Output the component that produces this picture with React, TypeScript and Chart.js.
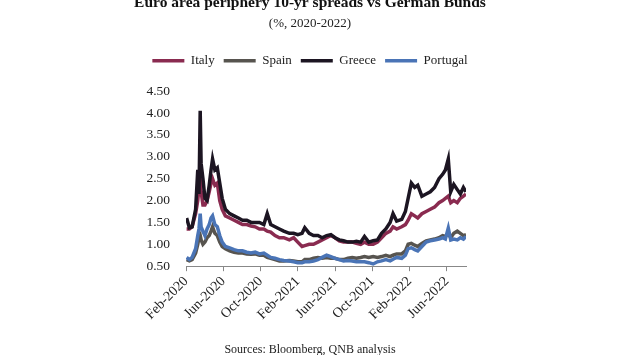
import React, { useEffect, useRef } from "react";
import { Chart, registerables } from "chart.js";

Chart.register(...registerables);

const dates = [
  "2020-02-03", "2020-02-12", "2020-02-21", "2020-03-02", "2020-03-09", "2020-03-13", "2020-03-17", "2020-03-20",
  "2020-03-26", "2020-04-02", "2020-04-09", "2020-04-16", "2020-04-22", "2020-04-27", "2020-05-04", "2020-05-12",
  "2020-05-20", "2020-05-28", "2020-06-08", "2020-06-22", "2020-07-06", "2020-07-20", "2020-08-03", "2020-08-17",
  "2020-08-31", "2020-09-14", "2020-09-28", "2020-10-12", "2020-10-23", "2020-11-04", "2020-11-18", "2020-12-02",
  "2020-12-16", "2021-01-04", "2021-01-18", "2021-02-01", "2021-02-15", "2021-02-24", "2021-03-08", "2021-03-22",
  "2021-04-06", "2021-04-20", "2021-05-04", "2021-05-18", "2021-06-01", "2021-06-15", "2021-06-29", "2021-07-13",
  "2021-07-27", "2021-08-10", "2021-08-24", "2021-09-06", "2021-09-20", "2021-10-04", "2021-10-18", "2021-11-01",
  "2021-11-15", "2021-11-29", "2021-12-08", "2021-12-20", "2022-01-06", "2022-01-18", "2022-01-27", "2022-02-07",
  "2022-02-18", "2022-02-28", "2022-03-11", "2022-03-25", "2022-04-08", "2022-04-22", "2022-05-06", "2022-05-18",
  "2022-05-27", "2022-06-06", "2022-06-14", "2022-06-24", "2022-07-05", "2022-07-15", "2022-07-25", "2022-08-03",
];

const italy = [
  1.35, 1.35, 1.4, 1.7, 2.0, 2.3, 2.5, 2.2, 1.9, 1.9, 2.0, 2.2, 2.4, 2.5, 2.35, 2.4,
  2.0, 1.8, 1.65, 1.6, 1.55, 1.5, 1.45, 1.45, 1.42, 1.4, 1.35, 1.35, 1.3, 1.28, 1.2, 1.15,
  1.15, 1.1, 1.15, 1.05, 0.95, 0.97, 1.0, 1.0, 1.05, 1.1, 1.15, 1.2, 1.15, 1.08, 1.05, 1.05,
  1.05, 1.02, 1.0, 1.05, 1.0, 1.0, 1.05, 1.15, 1.25, 1.3, 1.4, 1.35, 1.4, 1.45, 1.55, 1.7,
  1.65, 1.6, 1.7, 1.75, 1.8, 1.85, 1.95, 2.0, 2.05, 2.1, 1.95, 2.0, 1.95, 2.05, 2.1, 2.15,
];

const spain = [
  0.65, 0.62, 0.65, 0.8, 1.0, 1.15, 1.2, 1.1, 1.0, 1.05, 1.15, 1.2, 1.3, 1.4, 1.25, 1.2,
  1.05, 0.95, 0.9, 0.85, 0.82, 0.8, 0.8, 0.78, 0.77, 0.78, 0.75, 0.75, 0.7, 0.68, 0.65, 0.62,
  0.62, 0.63, 0.62, 0.6, 0.6, 0.65, 0.65, 0.68, 0.7, 0.68, 0.7, 0.68, 0.68, 0.65, 0.65, 0.68,
  0.7, 0.68, 0.7, 0.72, 0.7, 0.72, 0.7, 0.72, 0.75, 0.72, 0.75, 0.78, 0.78, 0.85, 1.0, 1.02,
  0.98, 0.95, 1.02, 1.08, 1.1, 1.12, 1.15, 1.2, 1.18, 1.25, 1.15, 1.25, 1.3, 1.25, 1.2, 1.22,
];

const greece = [
  1.6, 1.38, 1.4, 1.8, 2.7, 2.15, 4.05, 2.85, 2.5, 2.05, 2.0, 2.35, 2.7, 2.95, 2.7, 2.75,
  2.4, 2.05, 1.8, 1.7, 1.65, 1.6, 1.55, 1.55, 1.5, 1.5, 1.5, 1.45, 1.7, 1.45, 1.4, 1.35,
  1.3, 1.25, 1.25, 1.22, 1.25, 1.38, 1.25, 1.2, 1.2, 1.15, 1.2, 1.22, 1.15, 1.1, 1.08, 1.05,
  1.05, 1.07, 1.05, 1.18, 1.05, 1.08, 1.1, 1.25, 1.35, 1.5, 1.7, 1.53, 1.57, 1.75, 2.05, 2.4,
  2.3, 2.35, 2.1, 2.15, 2.2, 2.3, 2.5, 2.6, 2.7, 2.95, 2.2, 2.37, 2.25, 2.15, 2.3, 2.2,
];

const portugal = [
  0.7, 0.65, 0.7, 0.9, 1.2, 1.35, 1.7, 1.4, 1.3, 1.2, 1.35, 1.45, 1.6, 1.65, 1.45, 1.4,
  1.2, 1.05, 0.95, 0.92, 0.88, 0.85, 0.85, 0.82, 0.8, 0.82, 0.78, 0.8, 0.75, 0.7, 0.68, 0.65,
  0.63, 0.62, 0.6, 0.58, 0.58, 0.6, 0.6, 0.62, 0.65, 0.7, 0.75, 0.72, 0.68, 0.65, 0.62, 0.63,
  0.62, 0.6, 0.6, 0.6, 0.58, 0.55, 0.6, 0.62, 0.65, 0.62, 0.66, 0.7, 0.68, 0.75, 0.9, 0.92,
  0.88, 0.85, 0.95, 1.05, 1.08, 1.1, 1.12, 1.15, 1.12, 1.37, 1.1, 1.12, 1.1, 1.15, 1.12, 1.18,
];

const tickMonths = [0, 4, 8, 12, 16, 20, 24, 28];
const tickLabels = ["Feb-2020", "Jun-2020", "Oct-2020", "Feb-2021", "Jun-2021", "Oct-2021", "Feb-2022", "Jun-2022"];

const titleText = "Euro area periphery 10-yr spreads vs German Bunds";
const subtitleText = "(%, 2020-2022)";
const sourceText = "Sources: Bloomberg, QNB analysis";

function monthOffset(s: string): number {
  const [y, m, d] = s.split("-").map(Number);
  return (y - 2020) * 12 + (m - 2) + (d - 1) / 30.5;
}

const FONT = "'Liberation Serif', 'Times New Roman', serif";

export default function App() {
  const ref = useRef<HTMLCanvasElement | null>(null);

  useEffect(() => {
    document.body.style.margin = "0";
    const canvas = ref.current;
    if (!canvas) return;
    const xs = dates.map(monthOffset);
    const mk = (arr: number[]) => arr.map((v, i) => ({ x: xs[i], y: v }));

    const sourcePlugin = {
      id: "sourceText",
      afterDraw(chart: any) {
        const ctx = chart.ctx;
        ctx.save();
        ctx.font = `12px ${FONT}`;
        ctx.fillStyle = "#222";
        ctx.textAlign = "center";
        ctx.textBaseline = "middle";
        ctx.fillText(sourceText, chart.width / 2, chart.height - 5);
        ctx.restore();
      },
    };

    const legendGap = {
      id: "legendGap",
      beforeInit(chart: any) {
        const legend = chart.legend;
        const origFit = legend.fit;
        legend.fit = function () {
          origFit.call(this);
          this.height += 14;
        };
      },
    };

    const common = { pointRadius: 0, borderWidth: 3.5, tension: 0, fill: false };
    const chart = new Chart(canvas, {
      type: "line",
      data: {
        datasets: [
          { label: "Italy", data: mk(italy), borderColor: "#8a2b50", backgroundColor: "#8a2b50", order: 2, ...common },
          { label: "Spain", data: mk(spain), borderColor: "#57544f", backgroundColor: "#57544f", order: 3, ...common },
          { label: "Greece", data: mk(greece), borderColor: "#1c1522", backgroundColor: "#1c1522", order: 1, ...common },
          { label: "Portugal", data: mk(portugal), borderColor: "#4a74b6", backgroundColor: "#4a74b6", order: 0, ...common },
        ],
      },
      options: {
        animation: false,
        responsive: false,
        maintainAspectRatio: false,
        layout: { padding: { left: 0, right: 0, top: 0, bottom: 30 } },
        plugins: {
          title: {
            display: true,
            text: titleText,
            color: "#111",
            font: { family: FONT, size: 15.5, weight: "bold" },
            padding: { top: 4, bottom: 3 },
          },
          subtitle: {
            display: true,
            text: subtitleText,
            color: "#222",
            font: { family: FONT, size: 13 },
            padding: { top: 0, bottom: 14 },
          },
          legend: {
            display: true,
            labels: {
              usePointStyle: true,
              pointStyle: "line",
              pointStyleWidth: 32,
              color: "#222",
              font: { family: FONT, size: 13 },
              padding: 9,
              sort: (a: any, b: any) => a.datasetIndex - b.datasetIndex,
            },
          },
          tooltip: { enabled: false },
        },
        scales: {
          x: {
            type: "linear",
            min: 0,
            max: xs[xs.length - 1],
            afterBuildTicks: (axis: any) => {
              axis.ticks = tickMonths.map((v) => ({ value: v }));
            },
            grid: { display: true, drawOnChartArea: false, drawTicks: true, tickLength: 5, color: "#888" },
            border: { display: true, color: "#888", width: 1 },
            ticks: {
              minRotation: 45,
              maxRotation: 45,
              color: "#222",
              font: { family: FONT, size: 14 },
              padding: 2,
              callback: (_v: any, i: number) => tickLabels[i],
            },
          },
          y: {
            min: 0.5,
            max: 4.5,
            afterFit: (s: any) => {
              s.width = 186;
            },
            grid: { display: false },
            border: { display: false },
            ticks: {
              stepSize: 0.5,
              color: "#222",
              font: { family: FONT, size: 13.5 },
              padding: 8,
              callback: (v: any) => Number(v).toFixed(2),
            },
          },
          yRight: {
            position: "right",
            min: 0.5,
            max: 4.5,
            afterFit: (s: any) => {
              s.width = 154;
            },
            grid: { display: false },
            border: { display: false },
            ticks: { display: false },
          },
        },
      },
      plugins: [sourcePlugin, legendGap],
    } as any);
    return () => chart.destroy();
  }, []);

  return (
    <div style={{ position: "relative", width: 620, height: 355, overflow: "hidden", background: "#fff" }}>
      <canvas ref={ref} width={620} height={365} style={{ position: "absolute", left: 0, top: -10, width: 620, height: 365 }} />
    </div>
  );
}
